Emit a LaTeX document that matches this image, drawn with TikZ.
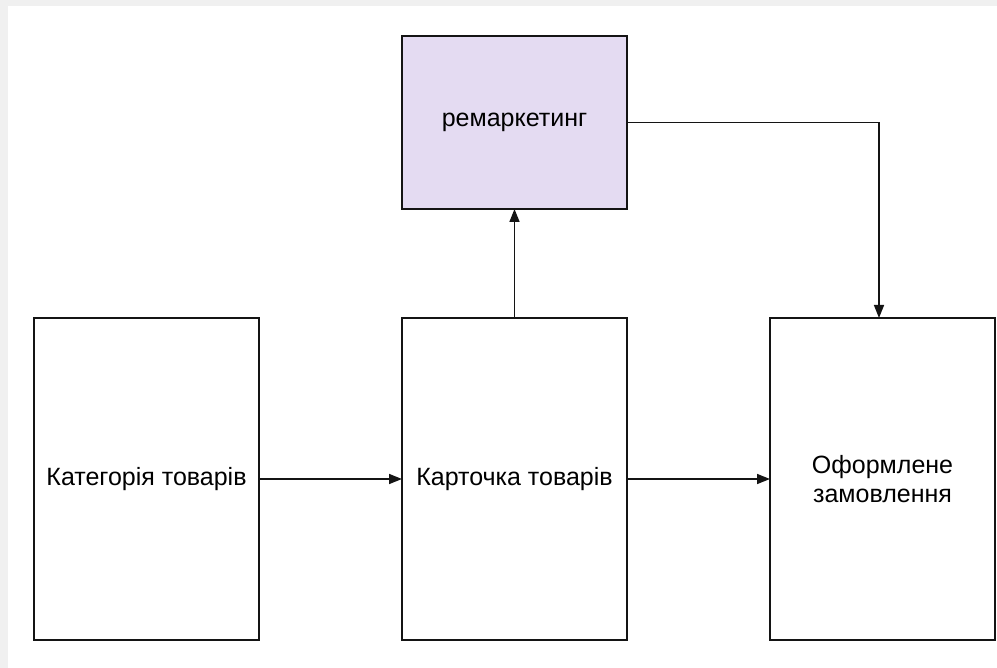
\documentclass[tikz,border=0pt]{standalone}
\usepackage{fontspec}
\setmainfont{Liberation Sans}
\usetikzlibrary{arrows.meta,positioning}
\definecolor{pgbg}{RGB}{240,240,240}
\definecolor{remfill}{RGB}{228,219,242}
\definecolor{lncol}{RGB}{20,20,20}

\begin{document}
\begin{tikzpicture}[
  x=1pt, y=-1pt,
  node distance=143pt,
  page/.style={draw=lncol, line width=1.5pt, fill=white, outer sep=0pt, align=center, minimum width=225pt, minimum height=322pt, font=\fontsize{25}{29}\selectfont, text=black},
  remark/.style={page, fill=remfill, minimum height=173pt},
  flow/.style={draw=lncol, line width=1.5pt, -{Triangle[length=13pt,width=10pt]}},
]
% background
\fill[pgbg] (0,0) rectangle (997,668);
\fill[white] (8,6) rectangle (997,668);
\useasboundingbox (0,0) rectangle (997,668);

\node[page] (cat) at (146.5,479) {Категорія товарів};
\node[page, right=of cat] (card) {Карточка товарів};
\node[page, right=of card] (order) {Оформлене\\замовлення};
\node[remark, above=109pt of card] (rem) {ремаркетинг};

\draw[flow] (cat) -- (card);
\draw[flow] (card) -- (order);
\draw[flow] (card) -- (rem);
\draw[flow] (rem.east) -| ([xshift=-3.5pt]order.north);
\end{tikzpicture}
\end{document}
